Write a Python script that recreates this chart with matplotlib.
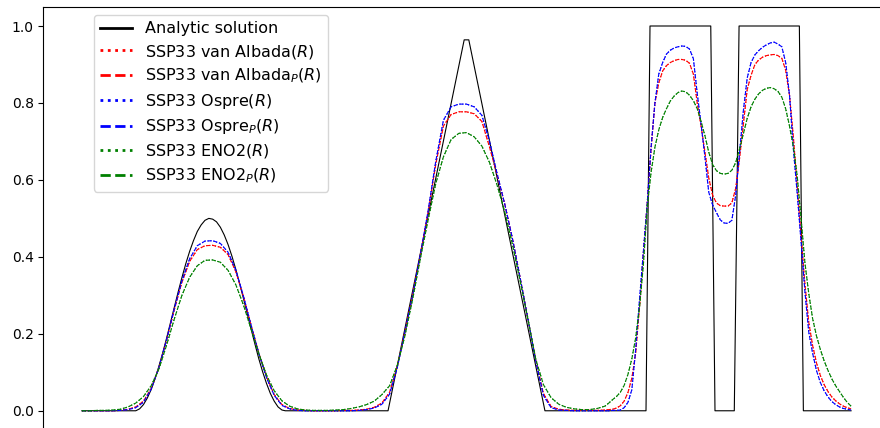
"""Advection test: analytic solution vs SSP33 schemes with different limiters."""

import numpy as np
import matplotlib
matplotlib.use("Agg")
import matplotlib.pyplot as plt

# analytic solution (breakpoints of the exact profile)
x_exact = [0.0, 0.070, 0.075, 0.080, 0.085, 0.090, 0.095, 0.100, 0.105, 0.110,
           0.115, 0.120, 0.125, 0.130, 0.135, 0.140, 0.145, 0.150, 0.155, 0.160,
           0.165, 0.170, 0.175, 0.180, 0.185, 0.190, 0.195, 0.200, 0.205, 0.210,
           0.215, 0.220, 0.225, 0.230, 0.235, 0.240, 0.245, 0.250, 0.255, 0.260,
           0.2645, 0.398, 0.497, 0.503, 0.602, 0.7334, 0.7386, 0.8176, 0.8231,
           0.8482, 0.8544, 0.9328, 0.938, 1.0]
u_exact = [0.0, 0.000, 0.005, 0.016, 0.033, 0.055, 0.083, 0.115, 0.150, 0.188,
           0.228, 0.268, 0.308, 0.346, 0.382, 0.414, 0.442, 0.466, 0.483, 0.495,
           0.500, 0.498, 0.491, 0.477, 0.457, 0.432, 0.402, 0.368, 0.331, 0.292,
           0.252, 0.212, 0.173, 0.135, 0.101, 0.071, 0.045, 0.025, 0.010, 0.002,
           0.0, 0.0, 0.964, 0.964, 0.0, 0.0, 1.0, 1.0, 0.0,
           0.0, 1.0, 1.0, 0.0, 0.0]

# numerical grid: coarse sampling up to 0.67, finer over the square waves
x_num = np.concatenate([np.arange(68) * 0.01, 0.68 + np.arange(65) * 0.005])

u_albada = [
    0, 0, 0, 0, 0, 0.001, 0.004, 0.010, 0.025, 0.058,
    0.112, 0.183, 0.262, 0.334, 0.388, 0.419, 0.429, 0.430, 0.425, 0.406,
    0.362, 0.297, 0.222, 0.150, 0.088, 0.042, 0.016, 0.006, 0.002, 0.001,
    0, 0, 0, 0, 0.001, 0.001, 0.002, 0.004, 0.009, 0.020,
    0.048, 0.115, 0.205, 0.300, 0.405, 0.515, 0.640, 0.740, 0.770, 0.777,
    0.777, 0.772, 0.752, 0.685, 0.612, 0.535, 0.445, 0.343, 0.238, 0.132,
    0.045, 0.011, 0.004, 0.002, 0.001, 0.001, 0.001, 0.001,
    # fine part
    0.002, 0.003, 0.004, 0.007, 0.013, 0.025, 0.048, 0.085, 0.150, 0.270,
    0.410, 0.539, 0.680, 0.800, 0.852, 0.883, 0.897, 0.905, 0.910, 0.913,
    0.913, 0.911, 0.903, 0.875, 0.800, 0.740, 0.672, 0.605, 0.560, 0.540,
    0.533, 0.532, 0.532, 0.540, 0.578, 0.655, 0.745, 0.835, 0.872, 0.900,
    0.912, 0.919, 0.923, 0.925, 0.926, 0.923, 0.916, 0.885, 0.820, 0.712,
    0.583, 0.455, 0.330, 0.230, 0.170, 0.125, 0.092, 0.068, 0.050, 0.036,
    0.026, 0.018, 0.012, 0.008, 0.005,
]

u_ospre = [
    0, 0, 0, 0, 0, 0.001, 0.003, 0.008, 0.022, 0.056,
    0.112, 0.184, 0.264, 0.338, 0.395, 0.429, 0.441, 0.442, 0.435, 0.412,
    0.366, 0.298, 0.222, 0.149, 0.086, 0.040, 0.014, 0.005, 0.001, 0,
    0, 0, 0, 0, 0, 0, 0.001, 0.003, 0.007, 0.017,
    0.043, 0.112, 0.205, 0.300, 0.405, 0.518, 0.648, 0.755, 0.790, 0.797,
    0.797, 0.790, 0.768, 0.700, 0.615, 0.535, 0.445, 0.343, 0.238, 0.130,
    0.040, 0.008, 0.002, 0.001, 0, 0, 0, 0,
    # fine part
    0.000, 0.000, 0.001, 0.001, 0.002, 0.008, 0.022, 0.055, 0.160, 0.290,
    0.415, 0.539, 0.685, 0.800, 0.875, 0.905, 0.927, 0.937, 0.943, 0.946,
    0.948, 0.947, 0.940, 0.915, 0.825, 0.745, 0.660, 0.568, 0.535, 0.515,
    0.496, 0.488, 0.487, 0.495, 0.560, 0.670, 0.780, 0.865, 0.905, 0.925,
    0.936, 0.945, 0.951, 0.956, 0.958, 0.953, 0.946, 0.905, 0.820, 0.680,
    0.565, 0.440, 0.310, 0.205, 0.150, 0.105, 0.074, 0.052, 0.036, 0.024,
    0.016, 0.010, 0.006, 0.004, 0.002,
]

u_eno2 = [
    0, 0, 0.001, 0.001, 0.002, 0.004, 0.010, 0.020, 0.037, 0.065,
    0.108, 0.170, 0.238, 0.300, 0.347, 0.377, 0.391, 0.392, 0.386, 0.365,
    0.328, 0.275, 0.212, 0.148, 0.093, 0.052, 0.026, 0.012, 0.005, 0.002,
    0.001, 0.001, 0.001, 0.002, 0.003, 0.006, 0.010, 0.016, 0.025, 0.042,
    0.065, 0.118, 0.195, 0.290, 0.395, 0.495, 0.590, 0.660, 0.705, 0.721,
    0.723, 0.712, 0.688, 0.645, 0.585, 0.515, 0.430, 0.335, 0.237, 0.135,
    0.068, 0.034, 0.017, 0.009, 0.005, 0.003, 0.003, 0.006,
    # fine part
    0.012, 0.020, 0.029, 0.037, 0.048, 0.066, 0.095, 0.135, 0.190, 0.270,
    0.380, 0.530, 0.620, 0.685, 0.730, 0.762, 0.785, 0.805, 0.818, 0.827,
    0.831, 0.829, 0.820, 0.806, 0.785, 0.752, 0.715, 0.672, 0.640, 0.624,
    0.617, 0.615, 0.617, 0.625, 0.645, 0.680, 0.720, 0.760, 0.790, 0.810,
    0.824, 0.833, 0.838, 0.840, 0.837, 0.830, 0.815, 0.785, 0.740, 0.686,
    0.610, 0.500, 0.385, 0.305, 0.240, 0.195, 0.160, 0.130, 0.105, 0.083,
    0.065, 0.050, 0.035, 0.022, 0.012,
]

schemes = [
    ("van Albada", u_albada, "r"),
    ("Ospre", u_ospre, "b"),
    ("ENO2", u_eno2, "g"),
]


def main():
    fig = plt.figure(figsize=(8.8, 4.28), dpi=100)
    # axes run past the right and bottom edge of the saved image
    ax = fig.add_axes([0.0494, -0.0047, 0.9614, 0.9889])

    lw = 0.8
    ax.plot(x_exact, u_exact, color="k", linewidth=lw, label="Analytic solution")
    for name, u, c in schemes:
        ax.plot(x_num, u, color=c, linestyle=":", linewidth=lw,
                label=f"SSP33 {name}($R$)")
        ax.plot(x_num, u, color=c, linestyle="--", linewidth=lw,
                label=f"SSP33 {name}$_P$($R$)")

    ax.set_xlim(-0.05, 1.05)
    ax.set_ylim(-0.05, 1.05)
    ax.set_xticks([])
    ax.tick_params(axis="y", labelsize=10)

    leg = ax.legend(loc="upper left", bbox_to_anchor=(0.05, 1.0),
                    fontsize=11.5, labelspacing=0.4)
    for line in leg.get_lines():
        line.set_linewidth(2.0)

    fig.savefig("out.png", dpi=100)


if __name__ == "__main__":
    main()
